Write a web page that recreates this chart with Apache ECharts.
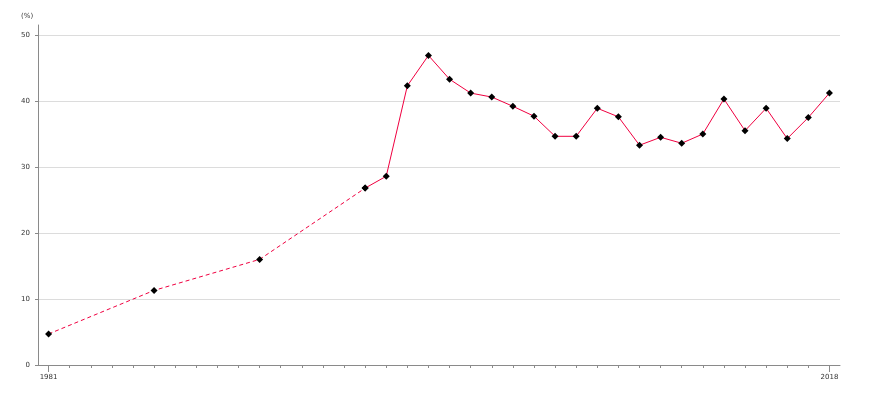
<!DOCTYPE html>
<html>
<head>
<meta charset="utf-8">
<script src="https://cdn.jsdelivr.net/npm/echarts@6/dist/echarts.min.js"></script>
<style>html,body{margin:0;padding:0;background:#fff}#c{width:870px;height:400px}</style>
</head>
<body>
<div id="c"></div>
<script>
const years = [1981,1982,1983,1984,1985,1986,1987,1988,1989,1990,1991,1992,1993,1994,1995,1996,1997,1998,1999,2000,2001,2002,2003,2004,2005,2006,2007,2008,2009,2010,2011,2012,2013,2014,2015,2016,2017,2018];
const measuredYears = [1981,1986,1991,1996,1997,1998,1999,2000,2001,2002,2003,2004,2005,2006,2007,2008,2009,2010,2011,2012,2013,2014,2015,2016,2017,2018];
const measuredValues = [4.7,11.3,16.0,26.8,28.6,42.3,46.9,43.3,41.2,40.6,39.2,37.7,34.65,34.65,38.9,37.6,33.3,34.5,33.6,35.0,40.3,35.5,38.9,34.3,37.5,41.2];
const dashedUntil = 1996;
const unitLabel = '(%)';

const byYear = {};
measuredYears.forEach((y,i)=>{byYear[y]=measuredValues[i];});
const dashedData = years.map(y => (y <= dashedUntil && byYear[y] !== undefined) ? byYear[y] : null);
const solidData = years.map(y => (y >= dashedUntil && byYear[y] !== undefined) ? byYear[y] : null);

const font = 'DejaVu Sans';
const chart = echarts.init(document.getElementById('c'), null, {renderer:'canvas'});
chart.setOption({
  animation: false,
  backgroundColor: '#fff',
  graphic: [{type:'text', left: 21, top: 13, style:{text: unitLabel, fontFamily: font, fontSize: 7, fill:'#333'}}],
  grid: [
    {left: 38, right: 30, top: 35, bottom: 35},
    {left: 38, right: 30, top: 25, bottom: 35}
  ],
  xAxis: [
    {type:'category', gridIndex:0, data: years, boundaryGap: true,
     axisLine:{show:true, lineStyle:{color:'#8a8a8a', width:1}},
     axisTick:{show:true, alignWithLabel:true, interval:0, length:3, lineStyle:{color:'#8a8a8a'}},
     axisLabel:{show:true, interval:(i)=> i===0 || i===years.length-1, fontFamily:font, fontSize:7, color:'#333', margin:9},
     splitLine:{show:false}},
    {type:'category', gridIndex:0, data: years, boundaryGap: true, position:'bottom',
     axisLine:{show:false},
     axisTick:{show:true, alignWithLabel:true, interval:(i)=> i===0 || i===years.length-1, length:7, lineStyle:{color:'#8a8a8a'}},
     axisLabel:{show:false}, splitLine:{show:false}},
    {type:'category', gridIndex:1, data: years, show:false}
  ],
  yAxis: [
    {type:'value', gridIndex:0, min:0, max:50, interval:10,
     axisLine:{show:false},
     axisTick:{show:true, length:3, lineStyle:{color:'#8a8a8a'}},
     axisLabel:{fontFamily:font, fontSize:7, color:'#333', margin:8},
     splitLine:{show:true, lineStyle:{color:'#dcdcdc', width:1}}},
    {type:'value', gridIndex:1, min:0, max:51.5,
     axisLine:{show:true, lineStyle:{color:'#8a8a8a', width:1}},
     axisTick:{show:false}, axisLabel:{show:false}, splitLine:{show:false}}
  ],
  series: [
    {type:'line', xAxisIndex:0, yAxisIndex:0, data: dashedData, connectNulls:true,
     lineStyle:{color:'#f00040', width:1, type:[4,3]},
     symbol:'diamond', symbolSize:7, itemStyle:{color:'#000'}, z:3},
    {type:'line', xAxisIndex:0, yAxisIndex:0, data: solidData, connectNulls:true,
     lineStyle:{color:'#f00040', width:1},
     symbol:'diamond', symbolSize:7, itemStyle:{color:'#000'}, z:3}
  ]
});
</script>
</body>
</html>
